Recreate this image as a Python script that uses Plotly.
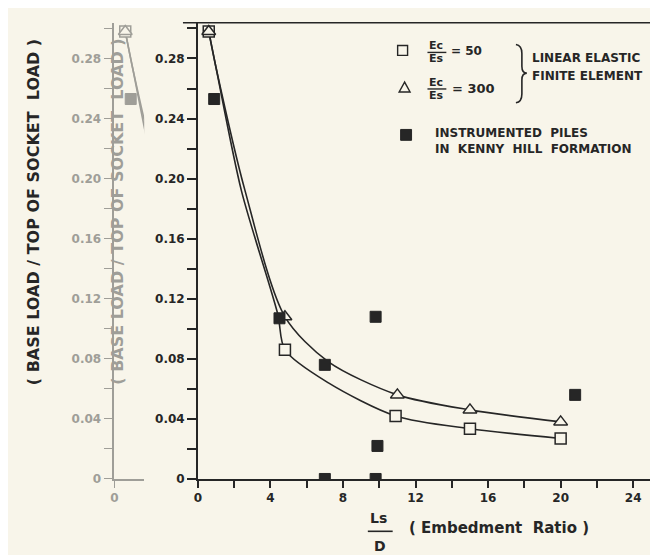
import plotly.graph_objects as go

W, H = 658, 555
INK = "#262626"
GHOST = "#9f9e98"
BG = "#f8f5ea"
FONT = "DejaVu Sans"

# ---------------- data ----------------
# Linear elastic finite element, Ec/Es = 50  (open squares)
ec50_x = [0.6, 4.8, 10.9, 15.0, 20.0]
ec50_y = [0.298, 0.086, 0.042, 0.0335, 0.027]
# Linear elastic finite element, Ec/Es = 300 (open triangles)
ec300_x = [0.6, 4.8, 11.0, 15.0, 20.0]
ec300_y = [0.298, 0.108, 0.056, 0.046, 0.038]
# fitted curves drawn through the FE results
fit50_x = [0.6, 1.0, 2.4, 4.4, 4.8, 7.2, 10.9, 15.0, 20.0]
fit50_y = [0.298, 0.274, 0.192, 0.110, 0.086, 0.064, 0.042, 0.0335, 0.027]
fit300_x = [0.6, 1.0, 2.6, 4.8, 7.2, 11.0, 15.0, 20.0]
fit300_y = [0.298, 0.274, 0.192, 0.108, 0.078, 0.056, 0.046, 0.038]
# Instrumented piles in Kenny Hill formation (filled squares)
piles_x = [0.9, 4.5, 7.0, 7.0, 9.8, 9.8, 9.9, 20.8]
piles_y = [0.253, 0.107, 0.076, 0.0, 0.108, 0.0, 0.022, 0.056]

x_ticks = [0, 4, 8, 12, 16, 20, 24]
x_tick_labels = ["0", "4", "8", "12", "16", "20", "24"]
y_ticks = [0, 0.04, 0.08, 0.12, 0.16, 0.20, 0.24, 0.28]
y_tick_labels = ["0", "0.04", "0.08", "0.12", "0.16", "0.20", "0.24", "0.28"]

# ---------------- geometry helpers (pixel -> paper) ----------------
def px(x):
    return x / W

def py(y):
    return 1 - y / H

X0, X1 = 187, 658          # main plot area, pixels
Y0, Y1 = 477, 15
GX0, GX1 = 103, 133        # ghost (scan shadow) axis area
XMAX = (X1 - X0) / 18.25
YMAX = (Y0 - Y1) / 1521.0

fig = go.Figure()

def add_series(xa, ya, color, bg, width):
    for fx, fy in ((fit50_x, fit50_y), (fit300_x, fit300_y)):
        fig.add_trace(go.Scatter(x=fx, y=fy, mode="lines", xaxis=xa, yaxis=ya,
                                 line=dict(color=color, width=width, shape="spline", smoothing=0.8),
                                 hoverinfo="skip"))
    fig.add_trace(go.Scatter(x=ec50_x, y=ec50_y, mode="markers", xaxis=xa, yaxis=ya,
                             marker=dict(symbol="square", size=11, color=bg,
                                         line=dict(color=color, width=1.5))))
    fig.add_trace(go.Scatter(x=ec300_x, y=ec300_y, mode="markers", xaxis=xa, yaxis=ya,
                             marker=dict(symbol="triangle-up", size=12, color=bg,
                                         line=dict(color=color, width=1.5))))
    fig.add_trace(go.Scatter(x=piles_x, y=piles_y, mode="markers", xaxis=xa, yaxis=ya,
                             marker=dict(symbol="square", size=11, color=color,
                                         line=dict(color=color, width=1))))

add_series("x", "y", INK, BG, 1.6)
add_series("x2", "y2", GHOST, BG, 1.6)

tickfont = dict(family=FONT, size=12, color=INK, weight="bold")
gtickfont = dict(family=FONT, size=12, color=GHOST, weight="bold")

fig.update_layout(
    width=W, height=H,
    margin=dict(l=0, r=0, t=0, b=0),
    paper_bgcolor=BG, plot_bgcolor=BG,
    showlegend=False,
    xaxis=dict(domain=[px(X0), 1], range=[0, XMAX], anchor="y",
               showline=True, linecolor=INK, linewidth=1.6,
               ticks="outside", ticklen=7, tickwidth=1.5, tickcolor=INK,
               tickvals=x_ticks, ticktext=x_tick_labels, tickfont=tickfont,
               minor=dict(dtick=2, ticks="outside", ticklen=7, tickwidth=1.5, tickcolor=INK),
               showgrid=False, zeroline=False),
    yaxis=dict(domain=[1 - Y0 / H, 1 - Y1 / H], range=[0, YMAX], anchor="x",
               showline=True, linecolor=INK, linewidth=1.6,
               ticks="outside", ticklen=9, tickwidth=1.5, tickcolor=INK,
               tickvals=y_ticks, ticktext=y_tick_labels, tickfont=tickfont,
               minor=dict(dtick=0.02, ticks="outside", ticklen=9, tickwidth=1.5, tickcolor=INK),
               showgrid=False, zeroline=False),
    xaxis2=dict(domain=[px(GX0), px(GX1)], range=[0, (GX1 - GX0) / 18.25], anchor="y2",
                showline=True, linecolor=GHOST, linewidth=1.5,
                ticks="outside", ticklen=7, tickwidth=1.4, tickcolor=GHOST,
                tickvals=[0], ticktext=["0"], tickfont=gtickfont,
                showgrid=False, zeroline=False),
    yaxis2=dict(domain=[1 - Y0 / H, 1 - Y1 / H], range=[0, YMAX], anchor="x2",
                showline=True, linecolor=GHOST, linewidth=1.5,
                ticks="outside", ticklen=9, tickwidth=1.4, tickcolor=GHOST,
                tickvals=y_ticks, ticktext=y_tick_labels, tickfont=gtickfont,
                minor=dict(dtick=0.02, ticks="outside", ticklen=9, tickwidth=1.4, tickcolor=GHOST),
                showgrid=False, zeroline=False),
)

shapes = []
# frame top and right
shapes.append(dict(type="line", xref="paper", yref="paper", x0=px(172), x1=px(651), y0=py(15), y1=py(15),
                   line=dict(color=INK, width=1.6)))
shapes.append(dict(type="line", xref="paper", yref="paper", x0=px(650), x1=px(650), y0=py(13), y1=py(170),
                   line=dict(color=INK, width=1.6)))
# legend symbols
shapes.append(dict(type="rect", xref="paper", yref="paper", x0=px(388), x1=px(398), y0=py(48), y1=py(38),
                   line=dict(color=INK, width=1.4), fillcolor=BG))
shapes.append(dict(type="path", xref="paper", yref="paper",
                   path=f"M {px(395)} {py(75)} L {px(389.5)} {py(85)} L {px(400.5)} {py(85)} Z",
                   line=dict(color=INK, width=1.4), fillcolor=BG))
shapes.append(dict(type="rect", xref="paper", yref="paper", x0=px(391), x1=px(402), y0=py(134), y1=py(123),
                   line=dict(color=INK, width=1), fillcolor=INK))
# fraction bars
for yb in (45, 82):
    shapes.append(dict(type="line", xref="paper", yref="paper", x0=px(418), x1=px(437), y0=py(yb), y1=py(yb),
                       line=dict(color=INK, width=1.4)))
shapes.append(dict(type="line", xref="paper", yref="paper", x0=px(358), x1=px(383), y0=py(530), y1=py(530),
                   line=dict(color=INK, width=1.6)))
# brace
bp = (f"M {px(507)} {py(37)} Q {px(513)} {py(38)} {px(513)} {py(46)} L {px(513)} {py(59)} "
      f"Q {px(513)} {py(66)} {px(518)} {py(66)} Q {px(513)} {py(66)} {px(513)} {py(73)} "
      f"L {px(513)} {py(87)} Q {px(513)} {py(95)} {px(507)} {py(96)}")
shapes.append(dict(type="path", xref="paper", yref="paper", path=bp, line=dict(color=INK, width=1.6)))
fig.update_layout(shapes=shapes)

NB = "\u00a0"
def ann(text, x, y, size=11, color=INK, xanchor="center", angle=0):
    return dict(text=text, x=px(x), y=py(y), xref="paper", yref="paper", showarrow=False,
                xanchor=xanchor, yanchor="middle", textangle=angle,
                font=dict(family=FONT, size=size, color=color, weight="bold"))

title = "(" + NB + "BASE" + NB + "LOAD" + NB + "/" + NB + "TOP" + NB + "OF" + NB + "SOCKET" + NB + NB + "LOAD" + NB + ")"
anns = [
    ann("Ec", 427, 38, size=11), ann("Es", 427, 51, size=11),
    ann("=" + NB + "50", 440, 44, size=12, xanchor="left"),
    ann("Ec", 427, 75, size=11), ann("Es", 427, 89, size=11),
    ann("=" + NB + "300", 441, 82, size=13, xanchor="left"),
    ann("LINEAR" + NB + "ELASTIC", 521, 51, size=12, xanchor="left"),
    ann("FINITE" + NB + "ELEMENT", 521, 69, size=12, xanchor="left"),
    ann("INSTRUMENTED" + NB * 2 + "PILES", 424, 127, size=12, xanchor="left"),
    ann("IN" + NB * 2 + "KENNY" + NB * 2 + "HILL" + NB * 2 + "FORMATION", 424, 143, size=12, xanchor="left"),
    ann("Ls", 369, 517, size=14), ann("D", 370, 545, size=14),
    ann("(" + NB + "Embedment" + NB * 2 + "Ratio" + NB + ")", 397, 527, size=15, xanchor="left"),
    ann(title, 22, 207, size=16, angle=-90),
    ann(title, 106, 206, size=16, color=GHOST, angle=-90),
]
fig.update_layout(annotations=anns)

fig.write_html("out.html")
